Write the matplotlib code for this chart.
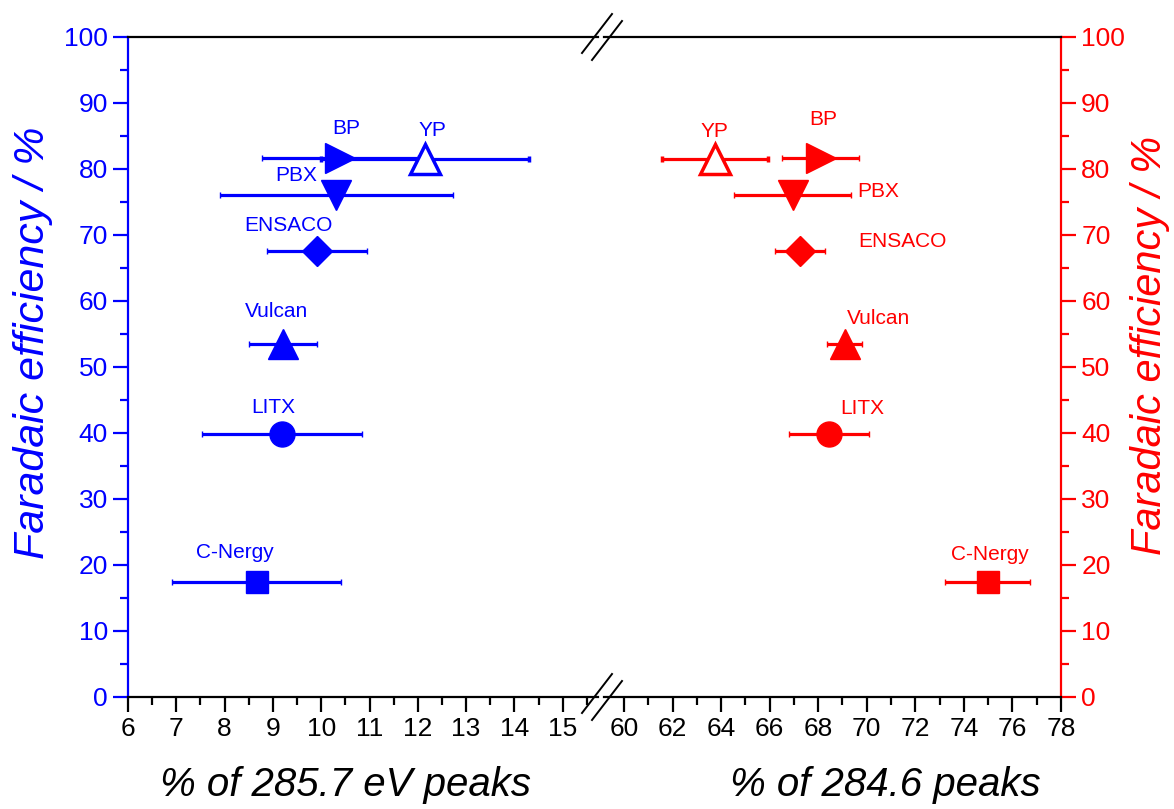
import matplotlib
matplotlib.use('Agg')
import matplotlib.pyplot as plt
from matplotlib.lines import Line2D
from matplotlib.ticker import MultipleLocator

plt.rcParams['font.family'] = ['Liberation Sans', 'DejaVu Sans']

# carbon samples
names = ['BP', 'YP', 'PBX', 'ENSACO', 'Vulcan', 'LITX', 'C-Nergy']
markers = ['>', '^', 'v', 'D', '^', 'o', 's']
open_marker = [False, True, False, False, False, False, False]

# faradaic efficiency (%)
fe = [81.7, 81.5, 76.0, 67.5, 53.5, 39.8, 17.5]

# % of 285.7 eV peaks (left, blue)
p2857 = [10.39, 12.15, 10.31, 9.91, 9.21, 9.19, 8.67]
p2857_err = [1.62, 2.15, 2.41, 1.03, 0.70, 1.65, 1.75]

# % of 284.6 peaks (right, red)
p2846 = [68.1, 63.74, 66.95, 67.25, 69.09, 68.44, 74.98]
p2846_err = [1.6, 2.18, 2.4, 1.05, 0.72, 1.65, 1.75]

# label offsets in pixels (dx, dy) from each marker
blue_off = [(6, 29), (7, 29), (-40, 20), (-28, 26), (-7, 32), (-9, 27), (-22, 29)]
red_off = [(3, 38), (0, 28), (85, 4), (102, 10), (34, 25), (33, 26), (2, 27)]

ms = {'>': 21, '^': 21, 'v': 21, 'D': 15, 'o': 18, 's': 16}

BLUE = '#0000FF'
RED = '#FF0000'
W, H = 1174, 809

fig = plt.figure(figsize=(W / 100, H / 100), dpi=100)
bot, top = 1 - 697 / H, 1 - 37 / H
ax1 = fig.add_axes([128 / W, bot, (598 - 128) / W, top - bot])
ax2 = fig.add_axes([604 / W, bot, (1061 - 604) / W, top - bot])


def draw(ax, xs, errs, offs, color):
    for x, y, e, m, op, nm, off in zip(xs, fe, errs, markers, open_marker, names, offs):
        ax.errorbar(x, y, xerr=e, fmt=m, ms=ms[m], color=color, ecolor=color,
                    elinewidth=2.3, capsize=2, capthick=2,
                    mfc='white' if op else color, mec=color,
                    mew=2.5 if op else 1, zorder=3)
        ax.annotate(nm, (x, y), xytext=off, textcoords='offset pixels',
                    ha='center', va='center', fontsize=15, color=color)


draw(ax1, p2857, p2857_err, blue_off, BLUE)
draw(ax2, p2846, p2846_err, red_off, RED)

ax1.set_xlim(6, 6 + (598 - 128) / 48.3)
ax2.set_xlim(60 - (624 - 604) / 24.3, 78)
for ax in (ax1, ax2):
    ax.set_ylim(0, 100)
    ax.yaxis.set_major_locator(MultipleLocator(10))
    ax.yaxis.set_minor_locator(MultipleLocator(5))
    for s in ax.spines.values():
        s.set_linewidth(1.6)
    ax.tick_params(which='major', length=11, width=1.6, labelsize=19, direction='out')
    ax.tick_params(which='minor', length=6, width=1.6, direction='out')

ax1.set_xticks(range(6, 16))
ax1.xaxis.set_minor_locator(MultipleLocator(0.5))
ax2.set_xticks(range(60, 79, 2))
ax2.xaxis.set_minor_locator(MultipleLocator(1))

ax1.spines['right'].set_visible(False)
ax1.spines['left'].set_color(BLUE)
ax1.tick_params(axis='y', which='both', colors=BLUE)
ax1.tick_params(axis='x', which='both', top=False)

ax2.spines['left'].set_visible(False)
ax2.spines['right'].set_color(RED)
ax2.yaxis.tick_right()
ax2.tick_params(axis='y', which='both', colors=RED, left=False)
ax2.tick_params(axis='x', which='both', top=False)

# break marks
for yb in (697, 37):
    for dx in (0, 10):
        fig.add_artist(Line2D([(582 + dx) / W, (612 + dx) / W],
                              [1 - (yb + 16 + dx * 0.7) / H, 1 - (yb - 23 + dx * 0.7) / H],
                              color='black', lw=1.4, transform=fig.transFigure))

fig.text(33 / W, 1 - 343 / H, 'Faradaic efficiency / %', rotation=90, color=BLUE,
         fontsize=31, style='italic', ha='center', va='center')
fig.text(1150 / W, 1 - 345 / H, 'Faradaic efficiency / %', rotation=90, color=RED,
         fontsize=30, style='italic', ha='center', va='center')
fig.text(345 / W, 1 - 785 / H, '% of 285.7 eV peaks', fontsize=29, style='italic',
         ha='center', va='center')
fig.text(885 / W, 1 - 785 / H, '% of 284.6 peaks', fontsize=29, style='italic',
         ha='center', va='center')

fig.savefig('out.png', dpi=100)
